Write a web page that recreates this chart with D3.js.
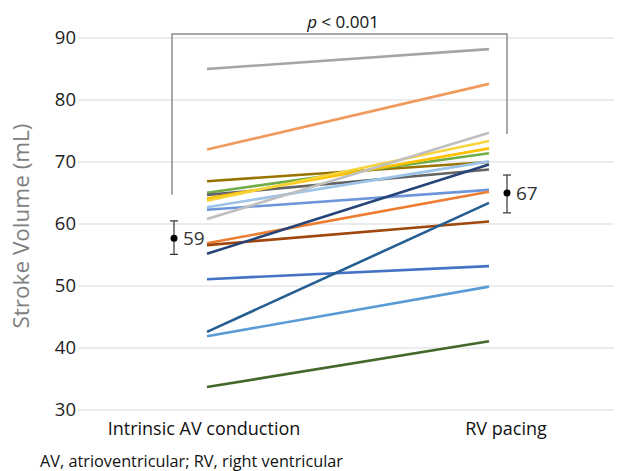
<!DOCTYPE html>
<html>
<head>
<meta charset="utf-8">
<script src="https://cdn.jsdelivr.net/npm/d3@7"></script>
<style>
  body { margin: 0; background: #fff; }
  text { font-family: "Open Sans", sans-serif; }
</style>
</head>
<body>
<div id="chart"></div>
<script>
// Data
const categories = ["Intrinsic AV conduction", "RV pacing"];
const yTicks = [30, 40, 50, 60, 70, 80, 90];
const intrinsic = [85.0, 72.0, 66.9, 65.05, 64.7, 64.1, 63.75, 62.7, 62.3, 60.8, 56.9, 56.6, 55.2, 51.1, 42.6, 41.9, 33.7];
const pacing = [88.2, 82.6, 70.0, 71.4, 68.8, 72.2, 73.4, 70.1, 65.5, 74.7, 65.2, 60.4, 69.6, 53.2, 63.4, 49.9, 41.1];
const lineColors = ["#A5A5A5", "#F09A5E", "#997300", "#70AD47", "#636363", "#FFC000", "#F7D33C", "#9DC3E6",
  "#6E95DA", "#BFBFBF", "#ED7D31", "#9E480E", "#264478", "#4472C4", "#255E91", "#5B9BD5", "#43682B"];
const means = [57.7, 65.0];
const meanLabels = ["59", "67"];
const errLow = [55.1, 61.8];
const errHigh = [60.5, 67.9];
const bracketBottom = [64.7, 74.5];
const pText = "p < 0.001";
const footnote = "AV, atrioventricular; RV, right ventricular";

const width = 627, height = 471;
const svg = d3.select("#chart").append("svg")
  .attr("width", width).attr("height", height);

const y = d3.scaleLinear().domain([30, 90]).range([410, 38]);
// category positions (labels, error bars, bracket)
const x = d3.scalePoint().domain(categories).range([174, 507]);
// line ends sit a little inside the categories
const xLine = d3.scaleLinear().domain([0, 1]).range([207, 489]);

// gridlines
svg.append("g").selectAll("line").data(yTicks).enter().append("line")
  .attr("x1", 78).attr("x2", 614)
  .attr("y1", d => y(d)).attr("y2", d => y(d))
  .attr("stroke", "#D9D9D9").attr("stroke-width", 1);

// y tick labels
svg.append("g").selectAll("text").data(yTicks).enter().append("text")
  .attr("x", 76).attr("y", d => y(d)).attr("dy", "0.35em")
  .attr("text-anchor", "end").attr("font-size", 18.5).attr("fill", "#222")
  .text(d => d);

// y axis title
svg.append("text")
  .attr("transform", "translate(29,226) rotate(-90)")
  .attr("text-anchor", "middle").attr("font-size", 22.5).attr("fill", "#808080")
  .text("Stroke Volume (mL)");

// category labels
svg.append("g").selectAll("text").data(categories).enter().append("text")
  .attr("x", (d, i) => i === 0 ? 204 : 506).attr("y", 435)
  .attr("text-anchor", "middle").attr("font-size", 18).attr("fill", "#111")
  .text(d => d);

// footnote
svg.append("text").attr("x", 40).attr("y", 467)
  .attr("font-size", 16.3).attr("fill", "#111").text(footnote);

// bracket
svg.append("path")
  .attr("d", `M${x(categories[0]) - 2},${y(bracketBottom[0])}V34H${x(categories[1])}V${y(bracketBottom[1])}`)
  .attr("fill", "none").attr("stroke", "#8C8C8C").attr("stroke-width", 1.5);

const pt = svg.append("text").attr("x", 343).attr("y", 28)
  .attr("text-anchor", "middle").attr("font-size", 17).attr("fill", "#111");
pt.append("tspan").attr("font-style", "italic").text(pText.slice(0, 1));
pt.append("tspan").text(pText.slice(1));

// subject lines
const line = d3.line().x((d, i) => xLine(i)).y(d => y(d));
svg.append("g").selectAll("path").data(intrinsic.map((v, i) => [v, pacing[i]])).enter()
  .append("path")
  .attr("d", line)
  .attr("fill", "none")
  .attr("stroke", (d, i) => lineColors[i])
  .attr("stroke-width", 2.6);

// mean ± error bars
const eb = svg.append("g");
categories.forEach((c, i) => {
  const cx = x(c);
  eb.append("line").attr("x1", cx).attr("x2", cx)
    .attr("y1", y(errLow[i])).attr("y2", y(errHigh[i]))
    .attr("stroke", "#333").attr("stroke-width", 1.2);
  [errLow[i], errHigh[i]].forEach(v => {
    eb.append("line").attr("x1", cx - 4).attr("x2", cx + 4)
      .attr("y1", y(v)).attr("y2", y(v))
      .attr("stroke", "#333").attr("stroke-width", 1.2);
  });
  eb.append("circle").attr("cx", cx).attr("cy", y(means[i])).attr("r", 3.5).attr("fill", "#000");
  eb.append("text").attr("x", cx + 9).attr("y", y(means[i])).attr("dy", "0.35em")
    .attr("font-size", 19).attr("fill", "#333").text(meanLabels[i]);
});
</script>
</body>
</html>
